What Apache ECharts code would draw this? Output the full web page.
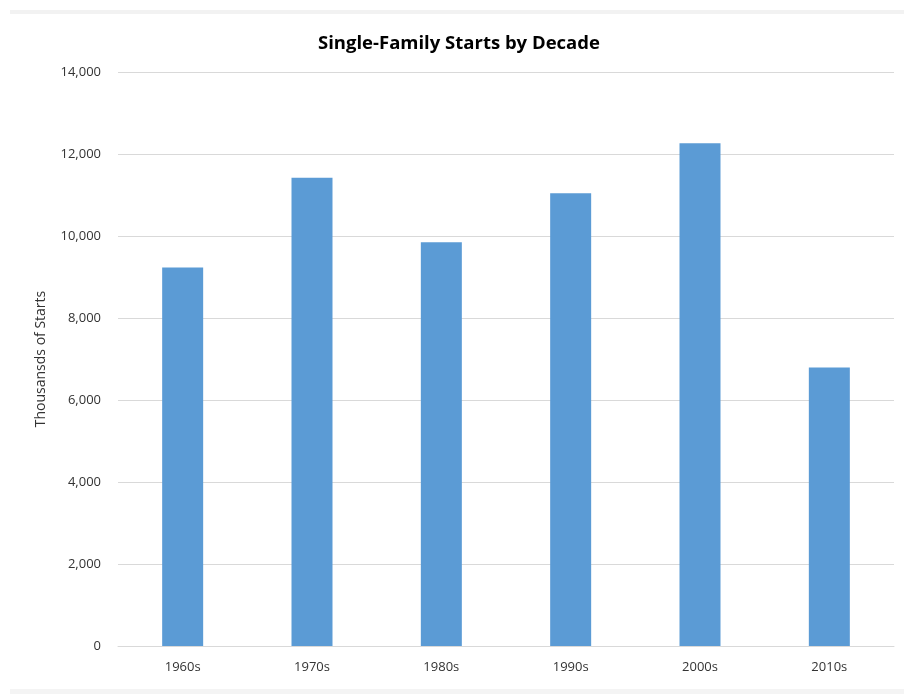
<!DOCTYPE html>
<html>
<head>
<meta charset="utf-8">
<script src="https://cdn.jsdelivr.net/npm/echarts@6/dist/echarts.min.js"></script>
<style>
html,body{margin:0;padding:0;background:#fff;}
#chart{width:909px;height:700px;}
</style>
</head>
<body>
<div id="chart"></div>
<script>
var categories = ['1960s', '1970s', '1980s', '1990s', '2000s', '2010s'];
var starts = [9230, 11420, 9850, 11040, 12260, 6790];
var yTicks = [0, 2000, 4000, 6000, 8000, 10000, 12000, 14000];

var chart = echarts.init(document.getElementById('chart'), null, {renderer: 'canvas'});
var font = '"Open Sans", "Liberation Sans", sans-serif';
chart.setOption({
  animation: false,
  backgroundColor: '#ffffff',
  title: {
    text: 'Single-Family Starts by Decade',
    left: 313,
    top: 29,
    textStyle: {fontFamily: font, fontSize: 18.5, fontWeight: 'bold', color: '#000000'}
  },
  graphic: [
    {type: 'rect', shape: {x: 10, y: 10, width: 894, height: 4}, style: {fill: '#f2f2f2'}},
    {type: 'rect', shape: {x: 10, y: 689, width: 894, height: 5}, style: {fill: '#f4f4f4'}}
  ],
  grid: {left: 118, right: 15, top: 72, bottom: 54, containLabel: false},
  xAxis: {
    type: 'category',
    data: categories,
    axisLine: {show: true, lineStyle: {color: '#d9d9d9', width: 1}},
    axisTick: {show: false},
    axisLabel: {fontFamily: font, fontSize: 13, color: '#333333', margin: 15}
  },
  yAxis: {
    type: 'value',
    min: yTicks[0],
    max: yTicks[yTicks.length - 1],
    interval: yTicks[1] - yTicks[0],
    name: 'Thousansds of Starts',
    nameLocation: 'middle',
    nameGap: 70,
    nameTextStyle: {fontFamily: font, fontSize: 14, color: '#333333'},
    axisLine: {show: false},
    axisTick: {show: false},
    splitLine: {lineStyle: {color: '#d9d9d9', width: 1}},
    axisLabel: {
      fontFamily: font, fontSize: 13, color: '#333333', margin: 17,
      formatter: function (v) { return v.toLocaleString('en-US'); }
    }
  },
  series: [{
    type: 'bar',
    data: starts,
    barWidth: '31.7%',
    itemStyle: {color: '#5b9bd5'}
  }]
});
</script>
</body>
</html>
